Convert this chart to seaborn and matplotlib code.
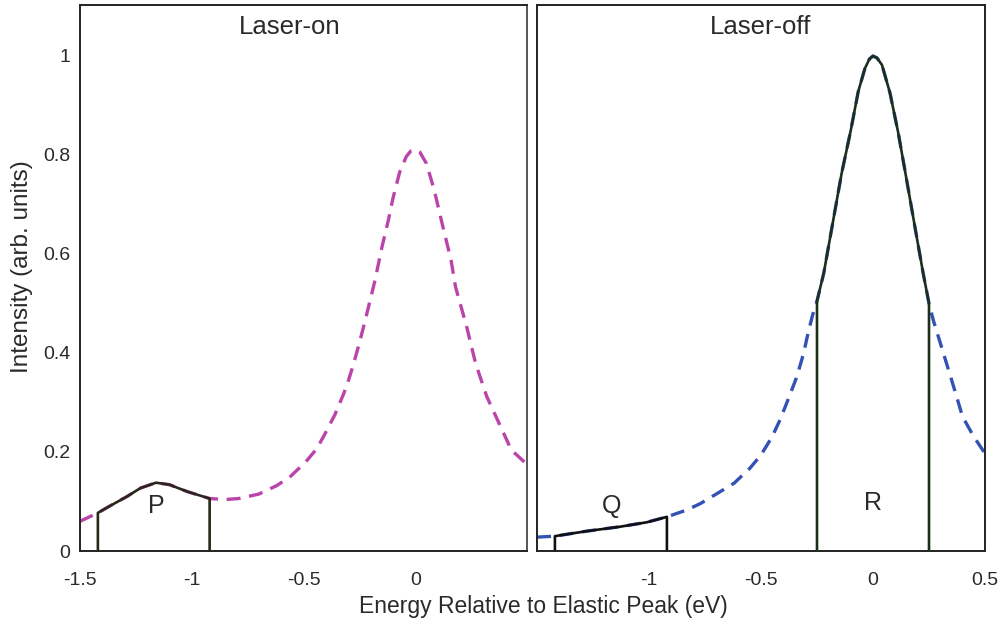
import numpy as np
import pandas as pd
import matplotlib
matplotlib.use("Agg")
import matplotlib.pyplot as plt
import seaborn as sns

# Laser-on spectrum (energy in eV relative to the elastic peak)
energy_on = [-1.50, -1.42, -1.37, -1.29, -1.23, -1.16, -1.10, -1.02, -0.92, -0.85,
             -0.79, -0.70, -0.62, -0.56, -0.49, -0.44, -0.40, -0.36, -0.32, -0.30,
             -0.28, -0.25, -0.22, -0.18, -0.15, -0.12, -0.10, -0.07, -0.04, -0.02,
             0.00, 0.02, 0.05, 0.085, 0.12, 0.16, 0.18, 0.23, 0.27, 0.32, 0.375,
             0.43, 0.50]
intensity_on = [0.060, 0.077, 0.090, 0.110, 0.127, 0.138, 0.134, 0.120, 0.106, 0.104,
                0.106, 0.115, 0.132, 0.150, 0.180, 0.207, 0.240, 0.275, 0.318, 0.343,
                0.372, 0.420, 0.473, 0.547, 0.612, 0.669, 0.712, 0.765, 0.797, 0.808,
                0.811, 0.806, 0.783, 0.729, 0.662, 0.588, 0.534, 0.453, 0.379, 0.312,
                0.258, 0.204, 0.175]

# Laser-off spectrum
energy_off = [-1.50, -1.42, -1.28, -1.13, -1.01, -0.92, -0.83, -0.77, -0.70, -0.62,
              -0.55, -0.50, -0.45, -0.415, -0.38, -0.34, -0.31, -0.29, -0.27, -0.25,
              -0.22, -0.18, -0.14, -0.10, -0.066, -0.036, -0.016, 0.00, 0.018, 0.04,
              0.076, 0.113, 0.15, 0.187, 0.224, 0.25, 0.27, 0.31, 0.36, 0.40, 0.45,
              0.50]
intensity_off = [0.028, 0.030, 0.040, 0.049, 0.058, 0.069, 0.083, 0.096, 0.115, 0.137,
                 0.167, 0.194, 0.231, 0.265, 0.305, 0.352, 0.399, 0.440, 0.476, 0.505,
                 0.561, 0.662, 0.763, 0.848, 0.928, 0.975, 0.994, 1.000, 0.996, 0.982,
                 0.925, 0.844, 0.750, 0.655, 0.561, 0.500, 0.465, 0.406, 0.332, 0.271,
                 0.231, 0.197]

# Integration windows (eV) and their labels
window_p = (-1.42, -0.92)
window_q = (-1.42, -0.92)
window_r = (-0.25, 0.25)
region_labels = ["P", "Q", "R"]

panel_titles = ["Laser-on", "Laser-off"]
yticks = [0, 0.2, 0.4, 0.6, 0.8, 1.0]
ytick_labels = ["0", "0.2", "0.4", "0.6", "0.8", "1"]
xticks_on = [-1.5, -1.0, -0.5, 0.0]
xticks_off = [-1.0, -0.5, 0.0, 0.5]

sns.set_theme(style="white")
plt.rcParams["font.family"] = ["Liberation Sans", "DejaVu Sans"]
text_color = "#2a2a2a"

df_on = pd.DataFrame({"energy": energy_on, "intensity": intensity_on})
df_off = pd.DataFrame({"energy": energy_off, "intensity": intensity_off})

fig = plt.figure(figsize=(9.99, 6.23), dpi=100)
W, H = 999, 623
ax_on = fig.add_axes([80 / W, (H - 551) / H, 447 / W, 546 / H])
ax_off = fig.add_axes([537 / W, (H - 551) / H, 448 / W, 546 / H])

dash = (0, (4.2, 2.6))
sns.lineplot(data=df_on, x="energy", y="intensity", ax=ax_on, color="#bb44aa",
             linewidth=2.4, linestyle=dash)
sns.lineplot(data=df_off, x="energy", y="intensity", ax=ax_off, color="#3452b4",
             linewidth=2.4, linestyle=dash)


def window_outline(ax, xs, ys, window, color):
    lo, hi = window
    xs = np.asarray(xs)
    ys = np.asarray(ys)
    inside = (xs > lo) & (xs < hi)
    wx = np.concatenate([[lo, lo], xs[inside], [hi, hi]])
    wy = np.concatenate([[0, np.interp(lo, xs, ys)], ys[inside],
                         [np.interp(hi, xs, ys), 0]])
    ax.plot(wx, wy, color=color, linewidth=1.9, solid_joinstyle="round", zorder=3)


window_outline(ax_on, energy_on, intensity_on, window_p, "#26281a")
window_outline(ax_off, energy_off, intensity_off, window_q, "#111111")
window_outline(ax_off, energy_off, intensity_off, window_r, "#1c2e1c")

label_kw = dict(ha="center", va="center", fontsize=18, color=text_color)
ax_on.text(-1.158, 0.090, region_labels[0], **label_kw)
ax_off.text(-1.165, 0.091, region_labels[1], **label_kw)
ax_off.text(0.0, 0.096, region_labels[2], **label_kw)

for ax, title, xt in [(ax_on, panel_titles[0], xticks_on),
                      (ax_off, panel_titles[1], xticks_off)]:
    ax.set_xlim(-1.5, 0.5)
    ax.set_ylim(0, 1.103)
    ax.set_xticks(xt)
    ax.set_xticklabels([f"{v:g}" for v in xt])
    ax.set_yticks(yticks)
    ax.set_xlabel("")
    ax.set_ylabel("")
    ax.tick_params(direction="in", length=5, width=1.1, color="#222222",
                   labelsize=14, labelcolor=text_color)
    ax.tick_params(axis="x", pad=15)
    ax.tick_params(axis="y", pad=7)
    for s in ax.spines.values():
        s.set_visible(True)
        s.set_color("#222222")
        s.set_linewidth(1.4)
    ax.text(0.5 if ax is ax_off else 0.47, 0.96, title, transform=ax.transAxes,
            ha="center", va="center", fontsize=18.5, color=text_color)

ax_on.spines["right"].set_color("#555555")
ax_on.set_yticklabels(ytick_labels)
ax_off.set_yticklabels([])

fig.text(22 / W, (H - 267) / H, "Intensity (arb. units)", rotation=90,
         ha="center", va="center", fontsize=17.5, color=text_color)
fig.text(543 / W, (H - 606) / H, "Energy Relative to Elastic Peak (eV)",
         ha="center", va="center", fontsize=16.5, color=text_color)

fig.savefig("out.png", dpi=100, facecolor="white")
